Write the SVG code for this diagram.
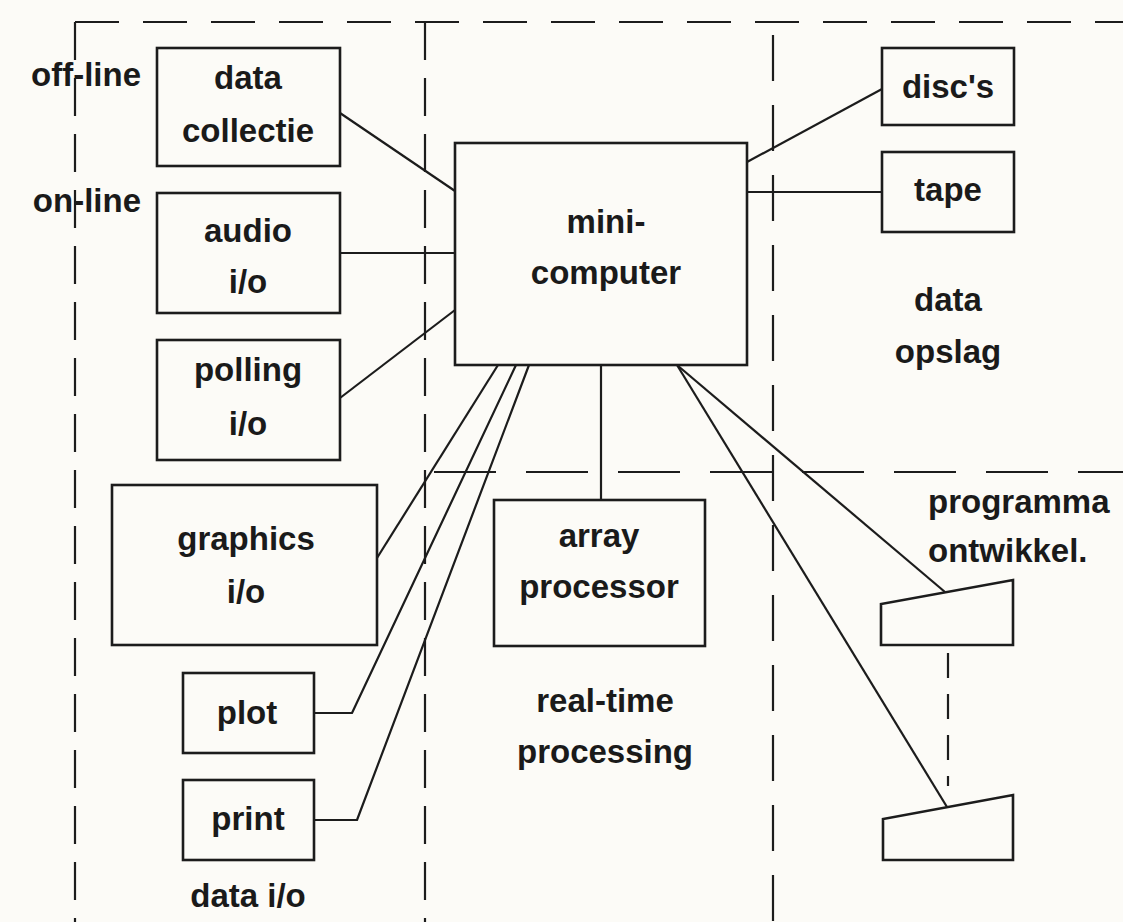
<svg xmlns="http://www.w3.org/2000/svg" width="1123" height="922" viewBox="0 0 1123 922">
  <style>
    .bg { fill: #fcfbf7; }
    .box { fill: none; stroke: #1c1c1c; stroke-width: 2.6; }
    .wire { fill: none; stroke: #1c1c1c; stroke-width: 2.2; stroke-linejoin: round; }
    .zone { fill: none; stroke: #1c1c1c; stroke-width: 2.2; }
    text { font-family: "Liberation Sans", Arial, sans-serif; font-weight: bold; font-size: 33px; fill: #1a1a1a; }
    .c { text-anchor: middle; }
    .r { text-anchor: end; }
  </style>
  <rect class="bg" x="0" y="0" width="1123" height="922"/>

  <!-- zone boundaries -->
  <g id="zones">
    <line class="zone" x1="75" y1="22" x2="1123" y2="22" stroke-dasharray="44 24"/>
    <line class="zone" x1="75" y1="22" x2="75" y2="922" stroke-dasharray="38 18"/>
    <line class="zone" x1="425" y1="22" x2="425" y2="922" stroke-dasharray="38 18"/>
    <line class="zone" x1="773" y1="35" x2="773" y2="922" stroke-dasharray="46 24"/>
    <line class="zone" x1="434" y1="472" x2="1123" y2="472" stroke-dasharray="62 30"/>
    <line class="zone" x1="948" y1="653" x2="948" y2="786" stroke-dasharray="25 16"/>
  </g>

  <!-- connectors -->
  <g id="connectors">
    <line class="wire" x1="340" y1="113" x2="455" y2="191"/>
    <line class="wire" x1="340" y1="253" x2="455" y2="253"/>
    <line class="wire" x1="340" y1="398" x2="455" y2="310"/>
    <line class="wire" x1="377" y1="558" x2="498" y2="365"/>
    <polyline class="wire" points="314,713 352,713 516,365"/>
    <polyline class="wire" points="314,820 357,820 529,365"/>
    <line class="wire" x1="601" y1="365" x2="601" y2="500"/>
    <line class="wire" x1="747" y1="162" x2="882" y2="89"/>
    <line class="wire" x1="747" y1="192" x2="882" y2="192"/>
    <line class="wire" x1="677" y1="365" x2="945" y2="592"/>
    <line class="wire" x1="677" y1="365" x2="947" y2="807"/>
  </g>

  <g id="data-collectie">
    <rect class="box" x="157" y="48" width="183" height="118"/>
    <text class="c" x="248" y="89">data</text>
    <text class="c" x="248" y="142">collectie</text>
  </g>
  <g id="audio-io">
    <rect class="box" x="157" y="193" width="183" height="120"/>
    <text class="c" x="248" y="242">audio</text>
    <text class="c" x="248" y="293">i/o</text>
  </g>
  <g id="polling-io">
    <rect class="box" x="157" y="340" width="183" height="120"/>
    <text class="c" x="248" y="381">polling</text>
    <text class="c" x="248" y="435">i/o</text>
  </g>
  <g id="graphics-io">
    <rect class="box" x="112" y="485" width="265" height="160"/>
    <text class="c" x="246" y="550">graphics</text>
    <text class="c" x="246" y="603">i/o</text>
  </g>
  <g id="plot">
    <rect class="box" x="183" y="673" width="131" height="80"/>
    <text class="c" x="247" y="724">plot</text>
  </g>
  <g id="print">
    <rect class="box" x="183" y="780" width="131" height="80"/>
    <text class="c" x="248" y="830">print</text>
  </g>
  <g id="minicomputer">
    <rect class="box" x="455" y="143" width="292" height="222"/>
    <text class="c" x="606" y="233">mini-</text>
    <text class="c" x="606" y="284">computer</text>
  </g>
  <g id="discs">
    <rect class="box" x="882" y="48" width="132" height="77"/>
    <text class="c" x="948" y="98">disc's</text>
  </g>
  <g id="tape">
    <rect class="box" x="882" y="152" width="132" height="80"/>
    <text class="c" x="948" y="201">tape</text>
  </g>
  <g id="array-processor">
    <rect class="box" x="494" y="500" width="211" height="146"/>
    <text class="c" x="599" y="547">array</text>
    <text class="c" x="599" y="598">processor</text>
  </g>
  <g id="terminal-1">
    <polygon class="box" points="881,645 881,604 1013,580 1013,645"/>
  </g>
  <g id="terminal-2">
    <polygon class="box" points="883,860 883,819 1013,795 1013,860"/>
  </g>

  <!-- zone labels -->
  <g id="labels">
    <text class="r" x="141" y="86">off-line</text>
    <text class="r" x="141" y="212">on-line</text>
    <text class="c" x="248" y="907">data i/o</text>
    <text class="c" x="605" y="712">real-time</text>
    <text class="c" x="605" y="763">processing</text>
    <text class="c" x="948" y="311">data</text>
    <text class="c" x="948" y="363">opslag</text>
    <text x="928" y="513">programma</text>
    <text x="928" y="562">ontwikkel.</text>
  </g>
</svg>
